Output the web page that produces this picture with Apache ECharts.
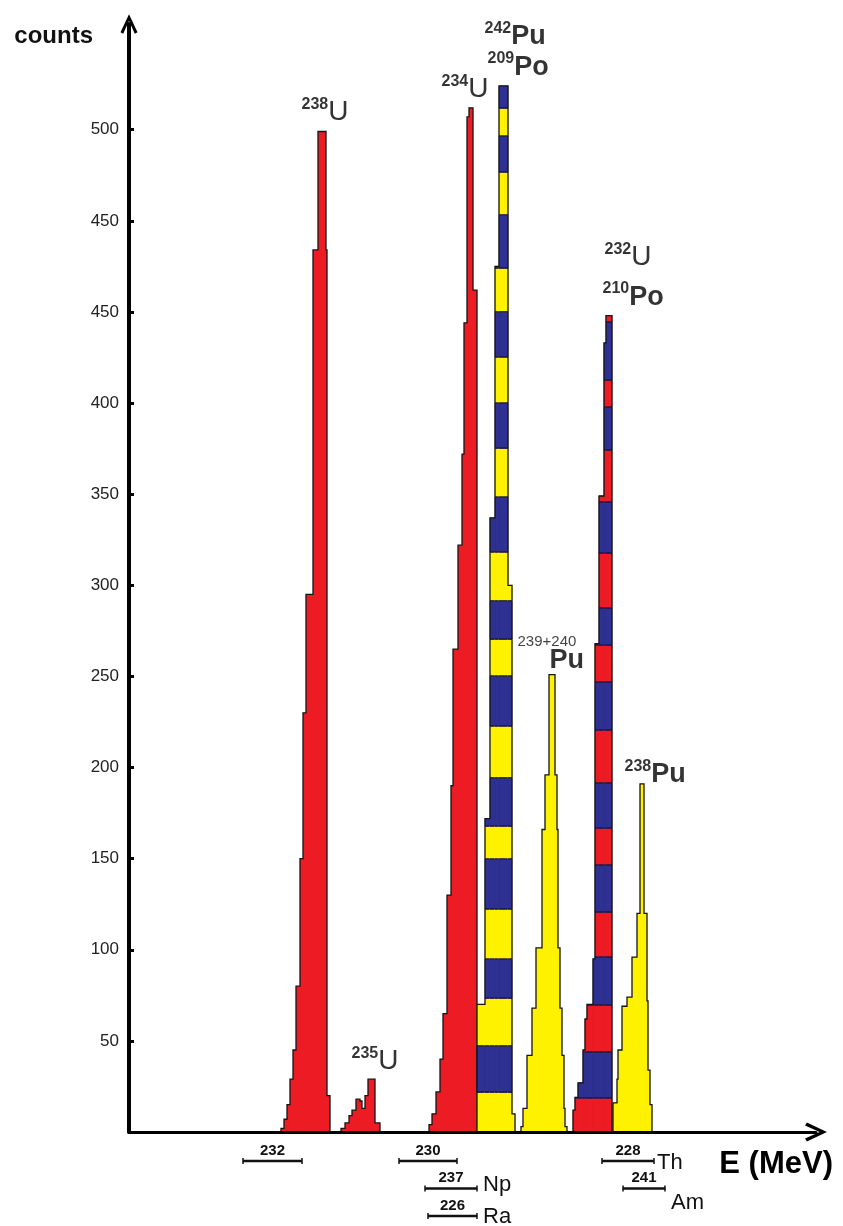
<!DOCTYPE html>
<html><head><meta charset="utf-8">
<script src="https://cdn.jsdelivr.net/npm/echarts@6/dist/echarts.min.js"></script>
<style>html,body{margin:0;padding:0;background:#fff}#c{width:843px;height:1226px}</style>
</head><body><div id="c"></div>
<script>
// Energy channel axis (arbitrary channels; original shows no numeric energy ticks)
// Each peak: bin edges (channels) and counts per bin
const u238Edges  = [152,155,158,161,164,167,171,174,177,184,189,197,198,201];
const u238Counts = [2,7,15,29,45,80,150,230,295,484,549,484,20];

const u235Edges  = [212,216,220,223,227,231,233,236,239,246,251];
const u235Counts = [2,5,9,12,18,17,13,20,29,5];

const u234Edges  = [300,303,307,311,314,318,322,324,329,333,335,338,340,344,348];
const u234Counts = [4,10,22,40,65,130,190,265,322,372,444,557,562,462];

const pu242Edges  = [348,356,361,366,370,379,383,386];
const pu242Counts = [70,172,337,475,574,300,10];

const pu239Edges  = [392,394,398,403,407,413,416,420,426,428,429,431,433,435,436,438];
const pu239Counts = [3,13,42,68,101,166,196,251,196,166,101,68,42,13,3];

const u232Edges  = [444,446,449,454,456,458,464,466,470,475,477,483];
const u232Counts = [12,19,27,45,62,70,95,268,349,433,448];

const pu238Edges  = [484,488,489,493,498,503,508,511,515,518,519,521,523];
const pu238Counts = [16,29,45,69,74,96,120,191,120,72,34,15];

// count levels where the stripe colour changes (two overlapping peaks)
const pu242Bands = [21.9,47.2,73.5,94.9,122.4,149.8,167.9,194.3,222.8,250.2,270.5,291.4,318.3,348.4,375.3,400,425.3,450,474.1,503.2,526.8,546.5,561.9];
const u232Bands  = [18.7,43.9,69.7,96,120.7,146.5,166.8,191.5,220.6,246.9,267.2,287.5,317.7,345.7,374.2,397.8,412.6,444.4];

// y-axis ticks and their (original) labels
const tickValues = [50,100,150,200,250,300,350,400,450,500,550];
const tickLabels = ['50','100','150','200','250','300','350','400','450','450','500'];

// peak annotations
const labelMass = ['238','235','234','242','209','239+240','','232','210','238'];
const labelElem = ['U','U','U','Pu','Po','','Pu','U','Po','Pu'];
const labelX    = [173,223,313,356,359,389,421,476,474,496];
const labelY    = [551.7,30.9,564.3,593.4,576.4,264.5,250.8,472.1,450.2,188.4];

// nuclide energy-range markers under the axis
const markerNum   = ['232','230','228','237','241','226'];
const markerElem  = ['','','Th','Np','Am','Ra'];
const markerStart = [114,270,473,296,494,299];
const markerEnd   = [173,328,525,348,536,348];
const markerRow   = [0,0,0,1,1,2];

const FONT = '"Liberation Sans", Arial, Helvetica, sans-serif';
const RED = '#ED1C24', YELLOW = '#FFF200', BLUE = '#2E3192';
const elemOffset = {Th:[3,2], Np:[6,-4], Am:[6,14], Ra:[6,1]};

// histogram outline (and optional fill) as one polygon through the axis scales
function peak(edges, counts, fill) {
  return {
    type: 'custom', silent: true, animation: false, z: fill ? 2 : 3,
    data: [[edges[0], 0]],
    renderItem: function (params, api) {
      const pts = [api.coord([edges[0], 0])];
      for (let i = 0; i < counts.length; i++) {
        pts.push(api.coord([edges[i], counts[i]]));
        pts.push(api.coord([edges[i + 1], counts[i]]));
      }
      pts.push(api.coord([edges[edges.length - 1], 0]));
      return {type: 'polygon', shape: {points: pts},
        style: {fill: fill || 'none', stroke: '#151515', lineWidth: 1.3, lineJoin: 'miter'}};
    }
  };
}
function striped(edges, counts, bands, colors) {
  return {
    type: 'custom', silent: true, animation: false, z: 2,
    data: counts.map((c, i) => [edges[i], edges[i + 1], c]),
    renderItem: function (params, api) {
      const x0 = api.value(0), x1 = api.value(1), v = api.value(2);
      const children = [];
      for (let k = 0; k <= bands.length; k++) {
        const lo = k === 0 ? 0 : bands[k - 1];
        const hi = k === bands.length ? Infinity : bands[k];
        if (lo >= v) break;
        const top = Math.min(hi, v);
        const a = api.coord([x0, top]), b = api.coord([x1, lo]);
        const col = colors[k % 2];
        children.push({type: 'rect', shape: {x: a[0], y: a[1], width: b[0] - a[0], height: b[1] - a[1]},
          style: {fill: col, stroke: col, lineWidth: 0.6}});
      }
      for (let k = 0; k < bands.length; k++) {
        if (bands[k] >= v) break;
        const a = api.coord([x0, bands[k]]), b = api.coord([x1, bands[k]]);
        children.push({type: 'line', shape: {x1: a[0], y1: a[1], x2: b[0], y2: b[1]},
          style: {stroke: '#1a1a48', lineWidth: 1.6}});
      }
      return {type: 'group', children: children};
    }
  };
}

const chevron = 'path://M8.5,0 L17,18 L14.3,19.6 L8.5,6.6 L2.7,19.6 L0,18 Z';

const chart = echarts.init(document.getElementById('c'), null, {renderer: 'canvas'});
chart.setOption({
  animation: false,
  backgroundColor: '#fff',
  grid: {left: 129, right: 27, top: 24, bottom: 94, containLabel: false},
  xAxis: {
    type: 'value', min: 0, max: 687, z: 5,
    axisLine: {show: true, lineStyle: {color: '#000', width: 3}, symbol: ['none', chevron], symbolSize: [19, 22]},
    axisTick: {show: false}, axisLabel: {show: false}, splitLine: {show: false},
    name: 'E (MeV)', nameLocation: 'end', nameGap: 17,
    nameTextStyle: {fontFamily: FONT, fontSize: 31, fontWeight: 'bold', color: '#000', align: 'right', verticalAlign: 'top', padding: [17, 0, 0, 0]}
  },
  yAxis: {
    type: 'value', min: 0, max: 608, interval: 50, z: 5,
    axisLine: {show: true, lineStyle: {color: '#000', width: 4}, symbol: ['none', chevron], symbolSize: [17, 20]},
    axisTick: {show: true, inside: true, length: 5, lineStyle: {color: '#000', width: 3}, customValues: tickValues},
    axisLabel: {show: true, customValues: tickValues, margin: 10, fontFamily: FONT, fontSize: 17, color: '#222',
      formatter: function (v) { const i = tickValues.indexOf(v); return i < 0 ? '' : tickLabels[i]; }},
    splitLine: {show: false},
    name: 'counts', nameLocation: 'end', nameGap: -12,
    nameTextStyle: {fontFamily: FONT, fontSize: 24, fontWeight: 'bold', color: '#111', align: 'right', verticalAlign: 'middle', padding: [0, 36, 0, 0]}
  },
  series: [
    peak(u238Edges, u238Counts, RED),
    peak(u235Edges, u235Counts, RED),
    peak(u234Edges, u234Counts, RED),
    striped(pu242Edges, pu242Counts, pu242Bands, [YELLOW, BLUE]),
    peak(pu242Edges, pu242Counts, null),
    peak(pu239Edges, pu239Counts, YELLOW),
    striped(u232Edges, u232Counts, u232Bands, [RED, BLUE]),
    peak(u232Edges, u232Counts, null),
    peak(pu238Edges, pu238Counts, YELLOW),
    {
      type: 'scatter', silent: true, animation: false, z: 6,
      symbolSize: 1, itemStyle: {color: 'rgba(0,0,0,0)'},
      data: labelX.map((x, i) => [x, labelY[i], i]),
      label: {
        show: true, position: [0, 0], align: 'left', verticalAlign: 'bottom',
        formatter: function (p) {
          const i = p.data[2], m = labelMass[i], e = labelElem[i];
          if (!e) return '{n|' + m + '}';
          const es = e.charAt(0) === 'P' ? 'eb' : 'e';
          return (m ? '{m|' + m + '}' : '') + '{' + es + '|' + e + '}';
        },
        rich: {
          m: {fontFamily: FONT, fontSize: 16, fontWeight: 'bold', color: '#000', lineHeight: 14, verticalAlign: 'top'},
          e: {fontFamily: FONT, fontSize: 28, color: '#000', lineHeight: 30, verticalAlign: 'bottom'},
          eb: {fontFamily: FONT, fontSize: 27, fontWeight: 'bold', color: '#000', lineHeight: 30, verticalAlign: 'bottom'},
          n: {fontFamily: FONT, fontSize: 15, color: '#111', lineHeight: 15}
        }
      }
    },
    {
      type: 'custom', silent: true, animation: false, clip: false, z: 6,
      data: markerStart.map((s, i) => [s, markerEnd[i], markerRow[i], i]),
      renderItem: function (params, api) {
        const i = api.value(3);
        const a = api.coord([api.value(0), 0]), b = api.coord([api.value(1), 0]);
        const y = a[1] + 29 + api.value(2) * 27.5;
        const ch = [
          {type: 'line', shape: {x1: a[0], y1: y, x2: b[0], y2: y}, style: {stroke: '#111', lineWidth: 2.5}},
          {type: 'line', shape: {x1: a[0], y1: y - 3, x2: a[0], y2: y + 3}, style: {stroke: '#111', lineWidth: 1.5}},
          {type: 'line', shape: {x1: b[0], y1: y - 3, x2: b[0], y2: y + 3}, style: {stroke: '#111', lineWidth: 1.5}},
          {type: 'text', style: {text: markerNum[i], x: (a[0] + b[0]) / 2, y: y - 3, align: 'center', verticalAlign: 'bottom',
            font: 'bold 15px ' + FONT, fill: '#111'}}
        ];
        const el = markerElem[i];
        if (el) {
          const off = elemOffset[el];
          ch.push({type: 'text', style: {text: el, x: b[0] + off[0], y: y + off[1], align: 'left', verticalAlign: 'middle',
            font: '22px ' + FONT, fill: '#111'}});
        }
        return {type: 'group', children: ch};
      }
    }
  ]
});
</script></body></html>
